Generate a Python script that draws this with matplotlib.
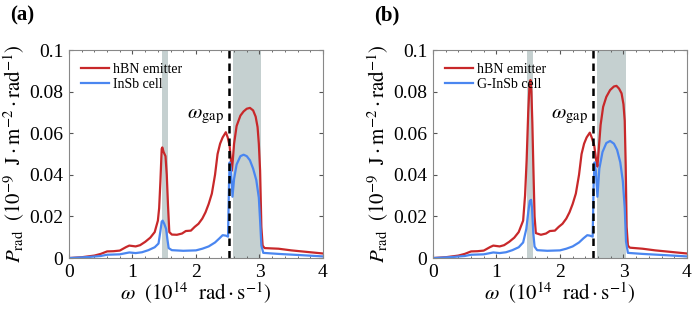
import matplotlib.pyplot as plt
from matplotlib.ticker import MultipleLocator

plt.rcParams['font.family'] = ['Liberation Serif', 'DejaVu Serif']
plt.rcParams['mathtext.fontset'] = 'stix'

# panel (a): hBN emitter / InSb cell
xa_red = [0, 0.2, 0.4, 0.5, 0.6, 0.7, 0.8, 0.9, 0.95, 1.0, 1.05, 1.12, 1.2, 1.28, 1.35, 1.4, 1.42,
          1.44, 1.46, 1.47, 1.49, 1.52, 1.54, 1.56, 1.58, 1.62, 1.7, 1.78, 1.84, 1.92, 1.98, 2.04,
          2.1, 2.15, 2.2, 2.25, 2.3, 2.34, 2.38, 2.42, 2.47, 2.5, 2.53, 2.55, 2.565, 2.58, 2.6, 2.64,
          2.7, 2.75, 2.8, 2.85, 2.9, 2.94, 2.97, 2.99, 3.01, 3.03, 3.05, 3.08, 3.3, 3.5, 3.8, 4.0]
ya_red = [0, 0.0004, 0.0012, 0.002, 0.0032, 0.0033, 0.0036, 0.0053, 0.006, 0.0058, 0.0056, 0.0062,
          0.0078, 0.0098, 0.0125, 0.018, 0.024, 0.037, 0.0525, 0.0532, 0.051, 0.049, 0.04, 0.025,
          0.0125, 0.0113, 0.0112, 0.0118, 0.013, 0.0132, 0.015, 0.0165, 0.019, 0.022, 0.026, 0.031,
          0.040, 0.050, 0.055, 0.058, 0.0605, 0.058, 0.054, 0.047, 0.042, 0.047, 0.055, 0.0635,
          0.0685, 0.0705, 0.0718, 0.0722, 0.071, 0.068, 0.063, 0.055, 0.042, 0.015, 0.006, 0.0048,
          0.0045, 0.0037, 0.0028, 0.0022]
xa_blue = [0, 0.3, 0.5, 0.6, 0.8, 0.9, 0.95, 1.05, 1.15, 1.25, 1.35, 1.41, 1.44, 1.46, 1.475, 1.5,
           1.53, 1.55, 1.57, 1.62, 1.8, 2.0, 2.1, 2.2, 2.3, 2.37, 2.42, 2.47, 2.505, 2.52, 2.53,
           2.55, 2.575, 2.6, 2.64, 2.7, 2.75, 2.8, 2.85, 2.9, 2.95, 2.99, 3.01, 3.03, 3.06, 3.3,
           3.6, 4.0]
ya_blue = [0, 0.0005, 0.001, 0.0016, 0.0018, 0.0024, 0.0027, 0.0024, 0.0028, 0.0038, 0.0052, 0.007,
           0.013, 0.0175, 0.018, 0.0165, 0.014, 0.009, 0.0048, 0.0038, 0.0035, 0.0037, 0.0045,
           0.0056, 0.0075, 0.0095, 0.011, 0.0108, 0.0103, 0.035, 0.046, 0.043, 0.0295, 0.038,
           0.045, 0.049, 0.0497, 0.049, 0.047, 0.043, 0.0375, 0.029, 0.018, 0.006, 0.0025, 0.002,
           0.0015, 0.0008]

# panel (b): hBN emitter / G-InSb cell
xb_red = [0, 0.2, 0.4, 0.5, 0.6, 0.7, 0.8, 0.9, 0.95, 1.0, 1.05, 1.12, 1.2, 1.28, 1.35, 1.42, 1.45,
          1.475, 1.5, 1.52, 1.535, 1.55, 1.565, 1.58, 1.6, 1.62, 1.7, 1.78, 1.84, 1.92, 1.98, 2.04,
          2.1, 2.15, 2.2, 2.25, 2.3, 2.34, 2.38, 2.42, 2.47, 2.5, 2.54, 2.57, 2.59, 2.61, 2.64,
          2.68, 2.73, 2.79, 2.85, 2.89, 2.93, 2.97, 3.0, 3.02, 3.035, 3.05, 3.07, 3.1, 3.3, 3.5,
          3.8, 4.0]
yb_red = [0, 0.0004, 0.0012, 0.002, 0.0032, 0.0033, 0.0036, 0.0053, 0.006, 0.0058, 0.0056, 0.0062,
          0.0078, 0.0098, 0.0125, 0.018, 0.03, 0.047, 0.07, 0.083, 0.0856, 0.08, 0.065, 0.045,
          0.02, 0.012, 0.0112, 0.0118, 0.013, 0.0132, 0.015, 0.0165, 0.019, 0.022, 0.026, 0.031,
          0.040, 0.050, 0.055, 0.058, 0.0603, 0.058, 0.054, 0.047, 0.044, 0.052, 0.064, 0.0727,
          0.0775, 0.0808, 0.0825, 0.0828, 0.0815, 0.0792, 0.074, 0.066, 0.045, 0.015, 0.006,
          0.005, 0.0045, 0.0037, 0.0028, 0.0022]
xb_blue = [0, 0.3, 0.5, 0.6, 0.8, 0.9, 0.95, 1.05, 1.15, 1.25, 1.35, 1.42, 1.47, 1.5, 1.525, 1.545,
           1.56, 1.58, 1.6, 1.64, 1.8, 2.0, 2.1, 2.2, 2.3, 2.37, 2.43, 2.47, 2.515, 2.53, 2.545,
           2.565, 2.59, 2.62, 2.67, 2.73, 2.79, 2.85, 2.9, 2.95, 2.99, 3.02, 3.04, 3.07, 3.3, 3.6,
           4.0]
yb_blue = [0, 0.0005, 0.001, 0.0016, 0.0018, 0.0024, 0.0027, 0.0024, 0.0028, 0.0038, 0.0052, 0.0075,
           0.014, 0.022, 0.0275, 0.028, 0.024, 0.012, 0.0055, 0.0038, 0.0035, 0.0037, 0.0045,
           0.0056, 0.0075, 0.0095, 0.011, 0.0108, 0.0103, 0.035, 0.046, 0.042, 0.0295, 0.043,
           0.051, 0.0553, 0.0563, 0.055, 0.052, 0.046, 0.037, 0.024, 0.008, 0.0025, 0.002, 0.0015,
           0.0008]

panels = [
    ("(a)", xa_red, ya_red, xa_blue, ya_blue, "InSb cell", (1.47, 1.56), (2.58, 3.03), 2.515),
    ("(b)", xb_red, yb_red, xb_blue, yb_blue, "G-InSb cell", (1.48, 1.57), (2.59, 3.04), 2.525),
]

red = "#c8282a"
blue = "#4a86f0"
shade = "#c5d0d0"

fig = plt.figure(figsize=(6.92, 3.19), dpi=100)
lefts = [0.0997, 0.6257]

for left, (tag, xr, yr, xbl, ybl, cell, band1, band2, wgap) in zip(lefts, panels):
    ax = fig.add_axes([left, 0.191, 0.367, 0.652])
    ax.axvspan(*band1, color=shade, lw=0)
    ax.axvspan(*band2, color=shade, lw=0)
    ax.plot(xr, yr, color=red, lw=1.6, label="hBN emitter")
    ax.plot(xbl, ybl, color=blue, lw=1.6, label=cell)
    ax.axvline(wgap, color="black", ls=(0, (3, 2)), lw=1.8)
    ax.text(wgap - 0.08, 0.068, r"$\omega_{\rm gap}$", ha="right", va="center", fontsize=15)
    ax.set_xlim(0, 4)
    ax.set_ylim(0, 0.1)
    ax.set_xticks([0, 1, 2, 3, 4])
    ax.set_yticks([0, 0.02, 0.04, 0.06, 0.08, 0.1])
    ax.set_yticklabels(["0", "0.02", "0.04", "0.06", "0.08", "0.1"])
    ax.xaxis.set_minor_locator(MultipleLocator(0.2))
    ax.tick_params(direction="in", top=True, right=True, labelsize=14, length=3, color="#555555",
                   pad=4)
    ax.tick_params(which="minor", direction="in", top=True, length=1.5, color="#555555")
    for s in ax.spines.values():
        s.set_color("#888888")
        s.set_linewidth(0.8)
    ax.set_xlabel(r"$\omega\ \ (10^{14}\ \ \mathrm{rad} \cdot \mathrm{s}^{-1})$", fontsize=15,
                  labelpad=0)
    ax.set_ylabel(r"$P_{\rm rad}\ \ (10^{-9}\ \ \mathrm{J} \cdot \mathrm{m}^{-2} \cdot \mathrm{rad}^{-1})$",
                  fontsize=15, labelpad=2)
    ax.legend(loc="upper left", frameon=False, fontsize=10, handlelength=2.0, handletextpad=0.3,
              borderaxespad=0.5, labelspacing=0.2)
    fig.text(left - 0.085, 0.95, tag, fontsize=15, fontweight="bold", va="center")

fig.savefig("out.png", dpi=100)
